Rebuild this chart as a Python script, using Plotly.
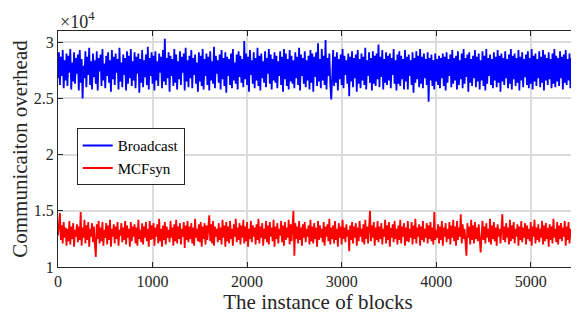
import plotly.graph_objects as go

# block index step used when reading the picture
blocks = list(range(0, 5501, 10))

# Communication overhead, in units of 100 (i.e. value*100 = overhead)
broadcast = [
    268, 291, 262, 287, 270, 293, 259, 284, 266, 290,
    261, 288, 273, 294, 258, 282, 265, 291, 263, 286,
    272, 289, 257, 293, 264, 285, 250, 279, 268, 292,
    260, 287, 271, 295, 262, 283, 258, 290, 269, 284,
    263, 292, 257, 286, 274, 289, 261, 294, 266, 281,
    259, 288, 270, 291, 264, 284, 256, 293, 267, 287,
    262, 290, 273, 285, 258, 295, 265, 282, 260, 289,
    271, 286, 257, 292, 263, 288, 268, 294, 261, 283,
    266, 291, 259, 287, 272, 290, 255, 285, 264, 293,
    260, 284, 269, 289, 262, 296, 258, 286, 270, 291,
    263, 288, 257, 292, 266, 283, 261, 290, 273, 287,
    259, 293, 265, 303, 262, 286, 268, 291, 256, 288,
    270, 285, 261, 294, 264, 289, 258, 283, 267, 292,
    262, 287, 273, 290, 257, 295, 265, 284, 260, 288,
    268, 293, 259, 286, 271, 289, 263, 282, 256, 291,
    265, 288, 261, 294, 258, 285, 270, 290, 262, 287,
    257, 292, 266, 283, 263, 296, 259, 288, 272, 284,
    264, 289, 258, 293, 267, 286, 261, 291, 255, 287,
    270, 285, 262, 290, 259, 294, 266, 282, 263, 289,
    258, 292, 269, 288, 264, 285, 260, 301, 267, 290,
    262, 287, 256, 293, 271, 284, 263, 291, 259, 286,
    266, 295, 261, 288, 257, 290, 268, 283, 264, 292,
    260, 286, 272, 294, 263, 289, 258, 285, 266, 291,
    264, 288, 259, 283, 270, 292, 262, 287, 256, 294,
    267, 290, 261, 285, 258, 293, 265, 288, 263, 284,
    259, 291, 268, 287, 262, 295, 257, 289, 270, 286,
    263, 292, 260, 284, 266, 288, 258, 293, 264, 290,
    256, 287, 269, 291, 261, 299, 265, 285, 259, 294,
    266, 288, 262, 302, 258, 286, 270, 290, 263, 249,
    268, 293, 261, 287, 264, 291, 257, 285, 267, 289,
    262, 294, 259, 288, 271, 284, 263, 290, 252, 287,
    265, 292, 260, 286, 268, 289, 256, 293, 263, 285,
    259, 290, 266, 287, 262, 295, 258, 284, 270, 291,
    264, 286, 257, 292, 263, 288, 261, 290, 267, 298,
    260, 287, 269, 293, 258, 285, 264, 291, 262, 288,
    266, 290, 259, 286, 271, 294, 263, 284, 257, 289,
    263, 292, 261, 288, 267, 285, 258, 293, 265, 287,
    258, 289, 270, 284, 262, 291, 255, 286, 264, 292,
    267, 288, 260, 294, 263, 287, 259, 290, 268, 285,
    262, 291, 247, 286, 266, 289, 261, 284, 258, 290,
    265, 285, 262, 288, 259, 286, 268, 290, 261, 287,
    257, 291, 264, 285, 270, 289, 260, 293, 263, 286,
    266, 288, 258, 292, 262, 284, 267, 290, 259, 294,
    263, 286, 269, 289, 256, 291, 264, 285, 261, 288,
    268, 293, 260, 287, 265, 290, 258, 284, 266, 292,
    261, 288, 257, 294, 263, 286, 270, 289, 262, 285,
    259, 291, 266, 287, 260, 293, 264, 288, 256, 290,
    265, 286, 262, 292, 268, 285, 259, 289, 263, 294,
    258, 288, 267, 290, 261, 286, 264, 293, 257, 287,
    266, 291, 260, 285, 269, 289, 262, 292, 259, 286,
    263, 294, 258, 288, 265, 290, 261, 285, 268, 292,
    260, 287, 264, 293, 257, 289, 266, 286, 262, 291,
    267, 285, 259, 290, 263, 294, 260, 288, 265, 286,
    261, 292, 268, 287, 258, 289, 264, 293, 262, 285,
    266, 290, 259, 286, 263, 291, 261, 288, 267, 284,
    270,
]

mcfsyn = [
    128, 139, 148, 124, 137, 121, 140, 126, 135, 119,
    134, 123, 141, 120, 136, 125, 139, 118, 133, 127,
    138, 122, 136, 124, 149, 119, 135, 126, 142, 121,
    137, 124, 140, 118, 134, 127, 139, 122, 136, 120,
    109, 138, 125, 141, 121, 135, 123, 140, 119, 133,
    126, 139, 120, 137, 124, 142, 118, 134, 127, 138,
    121, 136, 125, 140, 119, 133, 128, 139, 122, 135,
    124, 141, 120, 137, 126, 134, 118, 140, 123, 136,
    127, 138, 121, 135, 119, 142, 125, 133, 122, 139,
    120, 136, 126, 140, 123, 134, 118, 141, 124, 137,
    125, 139, 119, 135, 127, 138, 121, 143, 123, 134,
    118, 137, 124, 140, 120, 136, 126, 133, 122, 141,
    126, 135, 119, 138, 123, 142, 121, 136, 125, 139,
    120, 134, 127, 140, 117, 137, 124, 141, 122, 136,
    125, 139, 121, 135, 119, 143, 126, 134, 123, 138,
    122, 140, 118, 136, 125, 139, 120, 137, 124, 135,
    146, 123, 138, 121, 141, 119, 136, 127, 134, 122,
    139, 124, 135, 120, 142, 126, 137, 118, 140, 123,
    136, 121, 141, 125, 134, 119, 138, 127, 143, 122,
    135, 124, 139, 120, 137, 126, 142, 121, 136, 123,
    140, 118, 134, 125, 141, 122, 137, 127, 135, 120,
    138, 124, 143, 121, 136, 126, 139, 119, 134, 125,
    141, 122, 137, 120, 140, 127, 135, 123, 142, 118,
    136, 125, 139, 121, 134, 128, 141, 122, 137, 119,
    140, 124, 135, 126, 142, 120, 138, 123, 136, 150,
    110, 139, 125, 136, 121, 141, 124, 135, 119, 138,
    126, 140, 122, 134, 127, 137, 120, 142, 123, 136,
    121, 139, 125, 135, 118, 141, 124, 137, 126, 134,
    122, 140, 119, 136, 127, 138, 123, 143, 120, 135,
    125, 137, 121, 141, 124, 134, 118, 139, 126, 136,
    120, 142, 125, 135, 122, 138, 127, 133, 114, 137,
    124, 140, 121, 136, 126, 139, 119, 135, 123, 141,
    127, 134, 122, 138, 120, 142, 125, 136, 121, 139,
    150, 123, 137, 126, 140, 119, 135, 124, 141, 122,
    136, 125, 139, 120, 134, 127, 142, 121, 137, 124,
    140, 118, 135, 126, 138, 122, 141, 125, 134, 120,
    137, 124, 142, 121, 136, 127, 139, 119, 135, 123,
    141, 122, 134, 126, 140, 120, 137, 125, 143, 121,
    135, 127, 138, 119, 136, 124, 141, 122, 134, 126,
    139, 121, 137, 125, 140, 123, 135, 120, 149, 124,
    133, 126, 138, 121, 136, 124, 141, 119, 135, 127,
    139, 122, 134, 125, 140, 120, 137, 126, 142, 123,
    136, 119, 141, 124, 135, 127, 147, 121, 138, 125,
    134, 122, 110, 139, 126, 136, 120, 142, 124, 137,
    121, 140, 125, 135, 123, 138, 119, 113, 127, 141,
    124, 136, 121, 139, 126, 134, 122, 143, 120, 137,
    125, 140, 123, 135, 119, 138, 127, 134, 121, 141,
    147, 124, 136, 122, 139, 126, 135, 120, 142, 123,
    137, 125, 140, 121, 134, 127, 138, 119, 136, 124,
    141, 122, 135, 126, 139, 120, 137, 125, 134, 123,
    140, 119, 136, 127, 142, 121, 135, 124, 138, 122,
    134, 126, 141, 120, 137, 123, 139, 125, 135, 118,
    138, 124, 136, 121, 143, 126, 134, 122, 140, 120,
    137, 125, 139, 123, 135, 127, 141, 119, 136, 124,
    140, 121, 134, 126, 138, 122, 142, 125, 135, 120,
    131,
]

series_names = ["Broadcast", "MCFsyn"]
x_ticks = [0, 1000, 2000, 3000, 4000, 5000]
y_ticks = [1, 1.5, 2, 2.5, 3]
y_tick_labels = ["1", "1.5", "2", "2.5", "3"]

FONT = "'Liberation Serif', 'Times New Roman', 'DejaVu Serif', serif"
AX = "#262626"

fig = go.Figure()
fig.add_trace(go.Scatter(x=blocks, y=[v / 100 for v in broadcast], mode="lines",
                         name=series_names[0], line=dict(color="#0000ff", width=1.8)))
fig.add_trace(go.Scatter(x=blocks, y=[v / 100 for v in mcfsyn], mode="lines",
                         name=series_names[1], line=dict(color="#ff0000", width=1.8)))

axis_common = dict(showline=True, linecolor=AX, linewidth=1, mirror="ticks",
                   ticks="inside", ticklen=5, tickcolor=AX, tickwidth=1,
                   showgrid=True, gridcolor="#dcdcdc", gridwidth=1.5, zeroline=False,
                   automargin=False,
                   tickfont=dict(family=FONT, size=16, color=AX))

fig.update_xaxes(range=[0, 5500], tickvals=x_ticks,
                 title=dict(text="The instance of blocks", font=dict(family=FONT, size=21, color=AX), standoff=2),
                 **axis_common)
fig.update_yaxes(range=[1, 3.1], tickvals=y_ticks, ticktext=y_tick_labels,
                 title=dict(text="Communicaiton overhead", font=dict(family=FONT, size=21, color=AX), standoff=6),
                 **axis_common)

fig.add_annotation(x=0, y=1, xref="paper", yref="paper", xanchor="left", yanchor="bottom",
                   text="×10<sup>4</sup>", showarrow=False, yshift=-3,
                   font=dict(family=FONT, size=18, color=AX))

# page body has an 8px margin, so the figure is shrunk by 8px and margins shifted
fig.update_layout(
    width=571, height=313,
    margin=dict(l=50, r=1, t=23, b=54),
    paper_bgcolor="white", plot_bgcolor="white",
    showlegend=True,
    legend=dict(x=0.036, y=0.588, xanchor="left", yanchor="top",
                bgcolor="white", bordercolor=AX, borderwidth=1,
                font=dict(family=FONT, size=15, color="black"),
                tracegroupgap=0, itemwidth=30),
)

fig.write_html("out.html")
